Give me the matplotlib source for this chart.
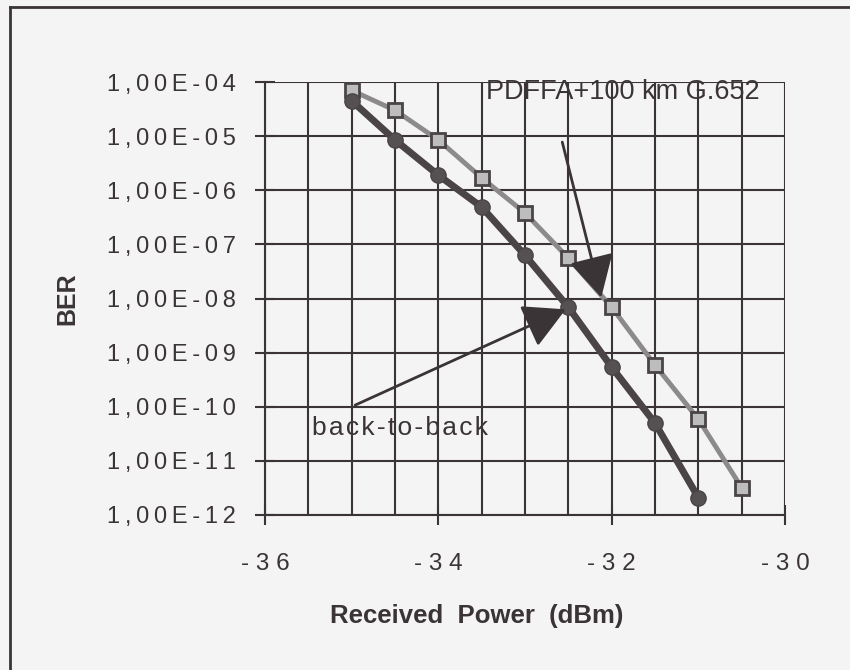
import numpy as np
import matplotlib
matplotlib.use('Agg')
import matplotlib.pyplot as plt
from matplotlib.ticker import FixedLocator, MultipleLocator, FuncFormatter
from matplotlib.lines import Line2D

plt.rcParams['font.family'] = ['Liberation Sans', 'DejaVu Sans']

# data
power_b2b = [-35, -34.5, -34, -33.5, -33, -32.5, -32, -31.5, -31]
ber_b2b = [4.5e-5, 8.5e-6, 1.9e-6, 4.9e-7, 6.3e-8, 6.9e-9, 5.4e-10, 5.0e-11, 2.1e-12]

power_pdffa = [-35, -34.5, -34, -33.5, -33, -32.5, -32, -31.5, -31, -30.5]
ber_pdffa = [7.0e-5, 3.0e-5, 8.5e-6, 1.7e-6, 3.8e-7, 5.6e-8, 6.9e-9, 5.9e-10, 5.9e-11, 3.2e-12]

x_ticks = [-36, -34, -32, -30]
y_ticks = [1e-4, 1e-5, 1e-6, 1e-7, 1e-8, 1e-9, 1e-10, 1e-11, 1e-12]

ink = '#3a3436'
bg = '#f4f4f4'
thin = '\u2009'
hair = '\u200a'

fig = plt.figure(figsize=(8.5, 6.7), dpi=100, facecolor=bg)
ax = fig.add_axes([265/850, 1-515/670, 520/850, 433/670], facecolor=bg)

ax.plot(power_b2b, ber_b2b, color='#4a4446', lw=5, marker='o', ms=11,
        mfc='#555052', mec='#4a4446', zorder=4)
ax.plot(power_pdffa, ber_pdffa, color='#8c8a8b', lw=3.5, marker='s', ms=10,
        mfc='#bdbdbd', mec='#4a4446', mew=2, zorder=3)

ax.set_yscale('log')
ax.set_xlim(-36, -30)
ax.set_ylim(1e-12, 1e-4)

ax.xaxis.set_major_locator(FixedLocator(x_ticks))
ax.xaxis.set_minor_locator(MultipleLocator(0.5))
ax.yaxis.set_major_locator(FixedLocator(y_ticks))
ax.yaxis.set_minor_locator(FixedLocator([]))

ax.xaxis.set_major_formatter(FuncFormatter(lambda v, p: ' '.join(f'{v:.0f}')))
ax.yaxis.set_major_formatter(FuncFormatter(
    lambda v, p: thin.join(f'1,00E-{-int(round(np.log10(v))):02d}')))

ax.grid(True, which='both', color=ink, lw=1.5)
ax.set_axisbelow(True)
for s in ax.spines.values():
    s.set_color(ink)
    s.set_linewidth(1.5)
ax.spines['top'].set_visible(False)
ax.spines['right'].set_visible(False)

ax.tick_params(axis='both', which='major', direction='inout', length=14, width=1.5,
               color=ink, labelcolor=ink)
ax.tick_params(axis='x', which='major', labelsize=17.5, pad=20)
ax.tick_params(axis='y', which='major', labelsize=17, pad=14)
ax.tick_params(axis='x', which='minor', length=0)

ax.set_ylabel('BER', fontsize=18, fontweight='bold', color=ink, labelpad=20)
ax.set_xlabel('Received  Power  (dBm)', fontsize=18.5, fontweight='bold', color=ink)
ax.xaxis.set_label_coords((477-265)/520, (515-604)/433)

arrow = dict(arrowstyle='-|>,head_length=1.3,head_width=0.7', color=ink, lw=2,
             mutation_scale=20, shrinkA=0, shrinkB=0)
ax.annotate('', xy=(-32.12, 10**-7.98), xytext=(-32.57, 10**-5.11), arrowprops=arrow, zorder=6)
ax.annotate('', xy=(-32.53, 10**-8.2), xytext=(-34.96, 10**-9.97), arrowprops=arrow, zorder=6)
ax.text(-33.45, 10**-4.18, 'PDFFA+100 km G.652', fontsize=19.5, color=ink,
        va='center', ha='left', zorder=7)
ax.text(-35.46, 10**-10.4, hair.join('back-to-back'), fontsize=19, color=ink,
        va='center', ha='left', zorder=7)

# frame round the figure (only left and top visible)
fig.add_artist(Line2D([10/850, 10/850], [0, 1-7/670], color=ink, lw=2))
fig.add_artist(Line2D([10/850, 1], [1-7/670, 1-7/670], color=ink, lw=2))

fig.savefig('out.png', dpi=100, facecolor=bg)
